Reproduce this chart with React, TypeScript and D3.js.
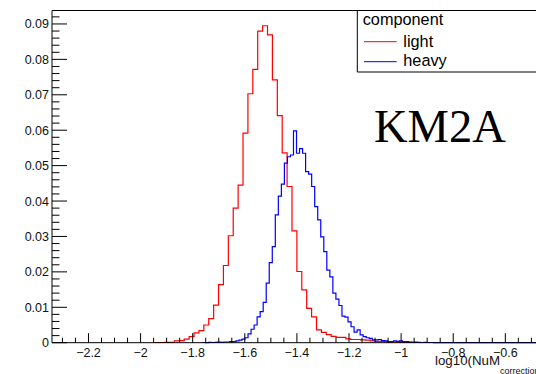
import React from "react";
import * as d3 from "d3";

// ---- Data (normalized histograms) ----
const lightStart = -1.9452; // lower edge of first listed bin
const lightBinWidth = 0.0188;
const lightValues = [
  0.00005, 0.00005, 0.0001, 0.0001,
  0.0005, 0.0006, 0.001, 0.0017, 0.0028, 0.0034, 0.005, 0.0068, 0.0106, 0.0164,
  0.0218, 0.0302, 0.038, 0.0445, 0.0592, 0.0703, 0.0772, 0.088, 0.0895, 0.0869,
  0.0742, 0.0641, 0.0536, 0.0441, 0.0316, 0.0201, 0.0149, 0.0097, 0.0073, 0.0036,
  0.0029, 0.0023, 0.0018, 0.0015, 0.0015, 0.0011, 0.0009, 0.0009, 0.0008, 0.0007,
  0.0005, 0.0004, 0.0004, 0.0003, 0.0002, 0.0002, 0.0001, 0.0001, 0.0001, 0.00005,
];

const heavyStart = -1.762;
const heavyBinWidth = 0.01163;
const heavyValues = [
  0.00005, 0, 0.0001, 0.00005, 0.0001, 0.0002, 0.0001, 0.0002, 0.0002, 0.0003,
  0.0003, 0.0005, 0.0007, 0.001, 0.0014, 0.0025, 0.0038, 0.005, 0.0073, 0.0088,
  0.0114, 0.0168, 0.0226, 0.0271, 0.0361, 0.0414, 0.0448, 0.0507, 0.0525, 0.053,
  0.0598, 0.0535, 0.0548, 0.0535, 0.0483, 0.0476, 0.0441, 0.0384, 0.0347, 0.0299,
  0.0257, 0.0205, 0.0186, 0.014, 0.0123, 0.0105, 0.0075, 0.0072, 0.0059, 0.0045,
  0.003, 0.0036, 0.0022, 0.0017, 0.0014, 0.0012, 0.0008, 0.0008, 0.0009, 0.0006,
  0.0005, 0.0003, 0.0003, 0.0005, 0.0004, 0.0005, 0.0003, 0.0003, 0.0002, 0.0001,
  0.0002, 0.0001, 0.00005, 0.0001, 0.00005, 0.00005,
];

const xTickValues = [-2.2, -2, -1.8, -1.6, -1.4, -1.2, -1, -0.8, -0.6];
const yTickValues = [0, 0.01, 0.02, 0.03, 0.04, 0.05, 0.06, 0.07, 0.08, 0.09];
const legendLabels = ["light", "heavy"];
const legendTitle = "component";
const seriesColors = ["#ff0000", "#0000ff"];

const W = 536;
const H = 374;
const FONT = "'Liberation Sans', Arial, sans-serif";

export default function App() {
  const x = d3.scaleLinear().domain([-2.34, -0.46]).range([52, 541.8]);
  const y = d3.scaleLinear().domain([0, 0.0938]).range([342.7, 10.5]);

  const stepPath = (start: number, bw: number, vals: number[]) => {
    const pts: [number, number][] = [];
    pts.push([x(start), y(0)]);
    vals.forEach((v, i) => {
      pts.push([x(start + i * bw), y(v)]);
      pts.push([x(start + (i + 1) * bw), y(v)]);
    });
    pts.push([x(start + vals.length * bw), y(0)]);
    return d3.line()(pts) as string;
  };

  const lightPath = stepPath(lightStart, lightBinWidth, lightValues);
  const heavyEnd = heavyStart + heavyValues.length * heavyBinWidth;
  const heavyPath =
    stepPath(heavyStart, heavyBinWidth, heavyValues) +
    (d3.line()([
      [x(heavyEnd), y(0)],
      [x(-0.46), y(0)],
    ]) as string);

  const x0 = x(-2.34);
  const yb = y(0);
  const yt = y(0.0938);

  const xMinor = d3.range(-2.3, -0.46, 0.05).filter(
    (v) => !xTickValues.some((t) => Math.abs(t - v) < 1e-6)
  );
  const yMinor = d3.range(0, 0.0931, 0.002).filter(
    (v) => !yTickValues.some((t) => Math.abs(t - v) < 1e-7)
  );

  const fmtY = (v: number) => (v === 0 ? "0" : d3.format(".2f")(v));
  const fmtX = (v: number) => d3.format("")(v).replace("-", "\u2212").replace("−", "\u2212");

  return (
    <svg
      width={W}
      height={H}
      style={{ position: "absolute", left: 0, top: 0, background: "#fff" }}
      fontFamily={FONT}
    >
      <rect x={0} y={0} width={W} height={H} fill="#fff" />
      {/* histograms */}
      <path d={lightPath} fill="none" stroke={seriesColors[0]} strokeWidth={1.2} />
      <path d={heavyPath} fill="none" stroke={seriesColors[1]} strokeWidth={1.2} />

      {/* frame */}
      <line x1={x0} y1={yt} x2={W} y2={yt} stroke="#000" strokeWidth={1} />
      <line x1={x0} y1={yt} x2={x0} y2={yb} stroke="#000" strokeWidth={1} />
      <line x1={x0} y1={yb} x2={W} y2={yb} stroke="#000" strokeWidth={1} />

      {/* x ticks */}
      {xTickValues.map((v) => (
        <g key={"xt" + v}>
          <line x1={x(v)} x2={x(v)} y1={yb} y2={yb - 9.5} stroke="#000" />
          <text
            x={x(v)}
            y={356.7}
            textAnchor="middle"
            fontSize={12.5}
            fill="#111"
          >
            {fmtX(v)}
          </text>
        </g>
      ))}
      {xMinor.map((v) => (
        <line key={"xm" + v} x1={x(v)} x2={x(v)} y1={yb} y2={yb - 5} stroke="#000" />
      ))}

      {/* y ticks */}
      {yTickValues.map((v) => (
        <g key={"yt" + v}>
          <line x1={x0} x2={x0 + 15} y1={y(v)} y2={y(v)} stroke="#000" />
          <text
            x={49}
            y={y(v)}
            dy="0.36em"
            textAnchor="end"
            fontSize={12.5}
            fill="#111"
          >
            {fmtY(v)}
          </text>
        </g>
      ))}
      {yMinor.map((v) => (
        <line key={"ym" + v} x1={x0} x2={x0 + 7.5} y1={y(v)} y2={y(v)} stroke="#000" />
      ))}

      {/* x axis title */}
      <text x={435} y={365} fontSize={13.3} fill="#111">
        log10(NuM
        <tspan fontSize={9} dy={9}>
          correction
        </tspan>
      </text>

      {/* legend */}
      <line x1={357.3} y1={yt} x2={357.3} y2={72} stroke="#000" />
      <line x1={357.3} y1={72} x2={W} y2={72} stroke="#000" />
      <text x={362.7} y={25} fontSize={16.3} fill="#000">
        {legendTitle}
      </text>
      {legendLabels.map((lab, i) => (
        <g key={lab}>
          <line
            x1={364}
            x2={396.7}
            y1={41.7 + i * 20}
            y2={41.7 + i * 20}
            stroke={seriesColors[i]}
            strokeWidth={1}
          />
          <text x={403.3} y={46.5 + i * 19.5} fontSize={16.3} fill="#000">
            {lab}
          </text>
        </g>
      ))}

      {/* annotation */}
      <text
        x={374}
        y={142}
        fontSize={46.5}
        fontFamily="'Liberation Serif', 'Times New Roman', serif"
        fill="#000"
      >
        KM2A
      </text>
    </svg>
  );
}
